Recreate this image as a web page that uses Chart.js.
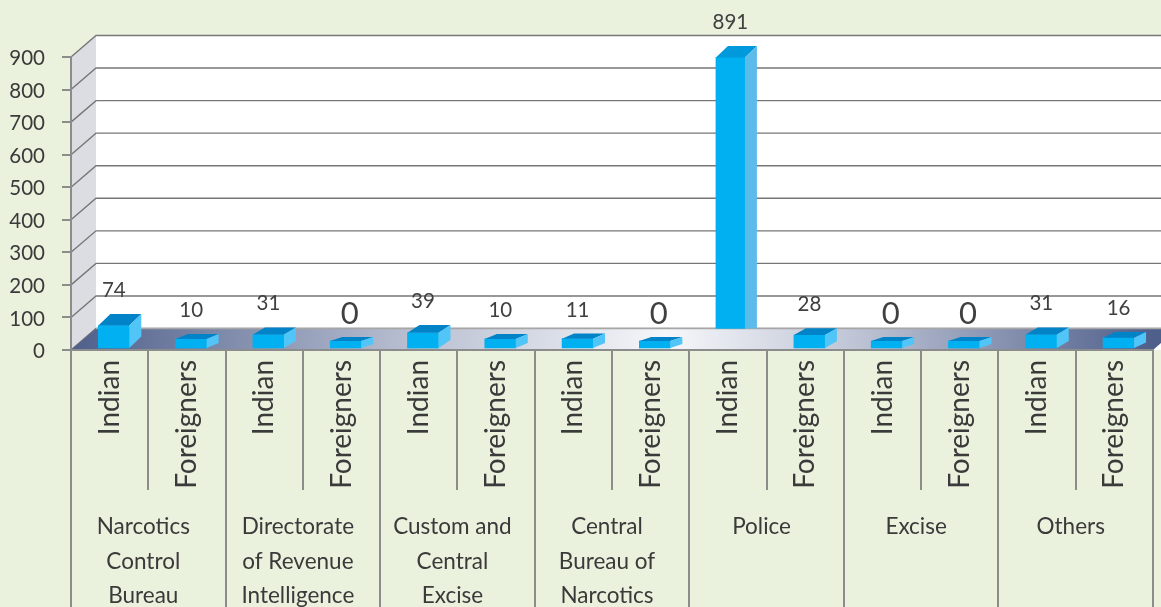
<!DOCTYPE html>
<html>
  <head>
    <title>Seizures by agency</title>
    <style>
      html, body { margin: 0; padding: 0; background: #eaf1dd; overflow: hidden; }
      canvas { display: block; }
    </style>
  </head>
  <body>
    <canvas id="chart" width="1161" height="607"></canvas>

    <script src="https://cdn.jsdelivr.net/npm/chart.js@4"></script>
    <script type="text/javascript">
      const nationalities = [
        'Indian', 'Foreigners', 'Indian', 'Foreigners', 'Indian', 'Foreigners', 'Indian',
        'Foreigners', 'Indian', 'Foreigners', 'Indian', 'Foreigners', 'Indian', 'Foreigners',
      ];
      const agencies = [
        ['Narcotics', 'Control', 'Bureau'],
        ['Directorate', 'of Revenue', 'Intelligence'],
        ['Custom and', 'Central', 'Excise'],
        ['Central', 'Bureau of', 'Narcotics'],
        ['Police'],
        ['Excise'],
        ['Others'],
      ];
      const persons = [74, 10, 31, 0, 39, 10, 11, 0, 891, 28, 0, 0, 31, 16];

      const wallDx = 25;
      const wallDy = 21.5;
      const textColor = '#3a3a3a';
      const axisColor = '#8c8c8c';
      const gridColor = '#777777';

      // the floor is painted over tall bars, short ones stand on it and never go flat
      const barDepth = (v) => Math.min(11.5, 4 + v * 0.1);
      const isTall = (v) => v > 100;

      const room = {
        id: 'room',
        beforeDraw(chart) {
          const { ctx, chartArea: area, scales } = chart;
          const y = scales.y;
          const bottom = y.getPixelForValue(0);
          const top = y.getPixelForValue(900);
          const farRight = area.right + wallDx;

          ctx.save();
          ctx.fillStyle = '#eaf1dd';
          ctx.fillRect(0, 0, chart.width, chart.height);

          ctx.fillStyle = '#ffffff';
          ctx.fillRect(area.left + wallDx, top - wallDy, farRight, bottom - top + wallDy);
          ctx.beginPath();
          ctx.moveTo(area.right, bottom);
          ctx.lineTo(farRight, bottom - wallDy);
          ctx.lineTo(farRight, bottom);
          ctx.closePath();
          ctx.fill();

          ctx.fillStyle = '#dcdde2';
          ctx.beginPath();
          ctx.moveTo(area.left, top);
          ctx.lineTo(area.left + wallDx, top - wallDy);
          ctx.lineTo(area.left + wallDx, bottom - wallDy);
          ctx.lineTo(area.left, bottom);
          ctx.closePath();
          ctx.fill();

          ctx.strokeStyle = gridColor;
          ctx.lineWidth = 1.4;
          y.ticks.forEach(({ value }) => {
            const py = y.getPixelForValue(value);
            ctx.beginPath();
            ctx.moveTo(area.left, py);
            ctx.lineTo(area.left + wallDx, py - wallDy);
            ctx.lineTo(chart.width, py - wallDy);
            ctx.stroke();
          });

          const floor = ctx.createLinearGradient(area.left, 0, area.right, 0);
          floor.addColorStop(0, '#4f5f8b');
          floor.addColorStop(0.3, '#b4bbce');
          floor.addColorStop(0.55, '#f6f7fa');
          floor.addColorStop(0.72, '#c0c6d6');
          floor.addColorStop(1, '#4f5f8b');
          ctx.fillStyle = floor;
          ctx.beginPath();
          ctx.moveTo(area.left, bottom);
          ctx.lineTo(area.left + wallDx, bottom - wallDy);
          ctx.lineTo(farRight, bottom - wallDy);
          ctx.lineTo(area.right, bottom);
          ctx.closePath();
          ctx.fill();

          ctx.strokeStyle = '#a6a6a6';
          ctx.lineWidth = 1.5;
          ctx.beginPath();
          ctx.moveTo(area.left + wallDx, bottom - wallDy);
          ctx.lineTo(chart.width, bottom - wallDy);
          ctx.stroke();
          ctx.restore();
        },
        // moves the bars back onto the floor, the bar element then draws the front face
        afterDatasetsUpdate(chart) {
          const y = chart.scales.y;
          chart.getDatasetMeta(0).data.forEach((bar, i) => {
            const v = persons[i];
            bar.x += isTall(v) ? 2.5 : 4.2;
            bar.width = isTall(v) ? 29 : 31;
            bar.y = isTall(v) ? y.getPixelForValue(v) - 2.5 : 341 - 0.21 * v;
            bar.base = isTall(v) ? y.getPixelForValue(0) - wallDy : 348;
          });
        },
        afterDatasetsDraw(chart) {
          const { ctx } = chart;
          ctx.save();
          chart.getDatasetMeta(0).data.forEach((bar, i) => {
            const v = persons[i];
            const dy = barDepth(v);
            const dx = 12;
            const left = bar.x - bar.width / 2;
            const right = bar.x + bar.width / 2;

            ctx.fillStyle = isTall(v) ? '#0099dc' : '#0283c8';
            ctx.beginPath();
            ctx.moveTo(left, bar.y);
            ctx.lineTo(left + dx, bar.y - dy);
            ctx.lineTo(right + dx, bar.y - dy);
            ctx.lineTo(right, bar.y);
            ctx.closePath();
            ctx.fill();

            ctx.fillStyle = isTall(v) ? '#5cbbea' : '#52c5f8';
            ctx.beginPath();
            ctx.moveTo(right, bar.y);
            ctx.lineTo(right + dx, bar.y - dy);
            ctx.lineTo(right + dx, isTall(v) ? bar.base : bar.base - dy);
            ctx.lineTo(right, bar.base);
            ctx.closePath();
            ctx.fill();

            ctx.fillStyle = '#404040';
            ctx.textAlign = 'center';
            ctx.textBaseline = 'middle';
            ctx.font = `${v === 0 ? 31 : 20.5}px Lato`;
            ctx.fillText(String(v), bar.x + (v === 0 ? 4 : 0), bar.y - dy - 23.5);
          });
          ctx.restore();
        },
      };

      new Chart(document.getElementById('chart'), {
        type: 'bar',
        data: {
          labels: nationalities,
          datasets: [
            {
              data: persons,
              backgroundColor: '#00b0f0',
              barThickness: 31,
              xAxisID: 'x',
            },
          ],
        },
        options: {
          responsive: false,
          animation: false,
          events: [],
          layout: { padding: { top: 57, right: 8 } },
          plugins: { legend: { display: false }, tooltip: { enabled: false } },
          scales: {
            y: {
              min: 0,
              max: 900,
              afterFit(scale) {
                scale.width = 71;
              },
              ticks: {
                stepSize: 100,
                color: textColor,
                font: { family: 'Lato', size: 20.5 },
                padding: 17,
                labelOffset: 1.5,
              },
              border: { color: axisColor, width: 2 },
              grid: { drawOnChartArea: false, color: axisColor, tickLength: 9, lineWidth: 2 },
            },
            x: {
              afterFit(scale) {
                scale.height = 140;
              },
              ticks: {
                autoSkip: false,
                minRotation: 90,
                maxRotation: 90,
                padding: -130,
                color: textColor,
                font: { family: 'Lato', size: 28 },
              },
              border: { color: axisColor, width: 2 },
              grid: { drawOnChartArea: false, color: axisColor, tickLength: 140, lineWidth: 2 },
            },
            agency: {
              type: 'category',
              position: 'bottom',
              labels: agencies,
              afterFit(scale) {
                scale.height = 117;
              },
              ticks: {
                autoSkip: false,
                maxRotation: 0,
                padding: -97,
                labelOffset: -5,
                color: textColor,
                font: { family: 'Lato', size: 22.5, lineHeight: 1.52 },
              },
              border: { display: false },
              grid: { drawOnChartArea: false, color: axisColor, tickLength: 117, lineWidth: 2 },
            },
          },
        },
        plugins: [room],
      });
    </script>
  </body>
</html>
